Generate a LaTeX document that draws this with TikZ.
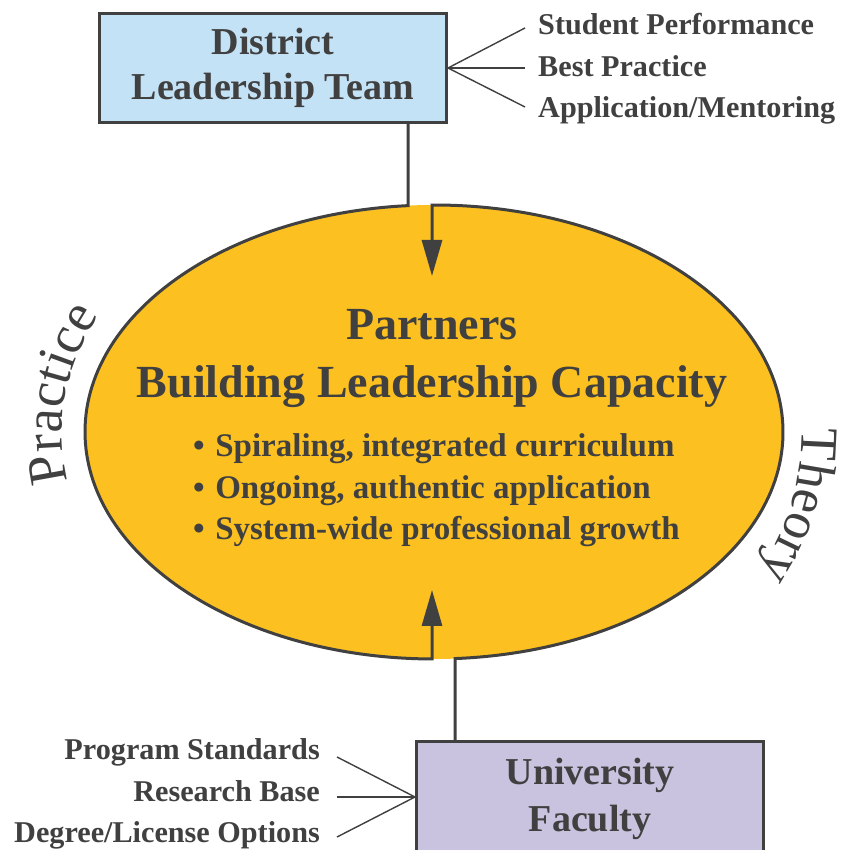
\documentclass[tikz,border=0pt]{standalone}
\usepackage{fontspec}
\setmainfont{Liberation Serif}
\usetikzlibrary{arrows.meta,shapes.geometric,decorations.text,calc}
\definecolor{ink}{HTML}{404040}
\definecolor{gold}{HTML}{FCC121}
\definecolor{skyfill}{HTML}{C4E2F6}
\definecolor{lavfill}{HTML}{CAC3DF}
\begin{document}
\begin{tikzpicture}[x=1pt,y=1pt,
  box/.style={draw=ink, line width=3pt, minimum width=347pt, inner sep=0pt},
  conn/.style={draw=ink, line width=3pt, line join=miter},
  fan/.style={draw=ink, line width=1.4pt},
  tipend/.style={-{Triangle[length=36pt,width=20pt]}},
  title/.style={text=ink, font=\bfseries\fontsize{46}{50}\selectfont, anchor=base, inner sep=0pt},
  bul/.style={text=ink, font=\bfseries\fontsize{33}{36}\selectfont, anchor=base west, inner sep=0pt},
  boxtxt/.style={text=ink, font=\bfseries\fontsize{38}{42}\selectfont, anchor=base, inner sep=0pt},
  side/.style={text=ink, font=\bfseries\fontsize{30.2}{34}\selectfont, inner sep=0pt},
]
\useasboundingbox (0,0) rectangle (842,850);
\fill[white] (0,0) rectangle (842,850);

% ellipse
\node[ellipse, fill=gold, draw=none, minimum width=698pt, minimum height=454pt, inner sep=0pt] (ell) at (434,418) {};
\coordinate (t1) at ([shift={(94.27:349pt and 227pt)}]ell.center);
\coordinate (t2) at ([shift={(90.33:349pt and 227pt)}]ell.center);
\coordinate (b1) at ([shift={(269.67:349pt and 227pt)}]ell.center);
\coordinate (b2) at ([shift={(273.45:349pt and 227pt)}]ell.center);
\coordinate (tip1) at (432,574);
\coordinate (tip2) at (432,260);

% boxes
\node[box, fill=skyfill, minimum height=109pt] (dlt) at (273,782) {};
\node[boxtxt] (dlt1) at (273,795) {District};
\node[boxtxt] (dlt2) at (273,750) {Leadership Team};

\node[box, fill=lavfill, minimum height=111pt] (uf) at (590,53) {};
\node[boxtxt] (uf1) at (590,65) {University};
\node[boxtxt] (uf2) at (590,18) {Faculty};

% outline + connectors
\draw[conn, tipend] (dlt.south -| t1) -- (t1)
  arc[start angle=94.27, end angle=269.67, x radius=349pt, y radius=227pt] -- (tip2);
\draw[conn, tipend] (uf.north -| b2) -- (b2)
  arc[start angle=273.45, end angle=450.33, x radius=349pt, y radius=227pt] -- (tip1);

% central text
\node[title] (p1) at (432,510) {Partners};
\node[title] (p2) at (432,452) {Building Leadership Capacity};
\node[bul] (c1) at (193,393) {•\hspace{0.32em}Spiraling, integrated curriculum};
\node[bul] (c2) at (193,351) {•\hspace{0.32em}Ongoing, authentic application};
\node[bul] (c3) at (193,310) {•\hspace{0.32em}System-wide professional growth};

% top fan
\node[side, anchor=base west] (s1) at (538,815) {Student Performance};
\node[side, anchor=base west] (s2) at (538,773) {Best Practice};
\node[side, anchor=base west] (s3) at (538,732) {Application/Mentoring};
\coordinate (f1) at (525,822);
\coordinate (f2) at (525,782);
\coordinate (f3) at (525,743);
\draw[fan] (dlt.east) -- (f1);
\draw[fan] (dlt.east) -- (f2);
\draw[fan] (dlt.east) -- (f3);

% bottom fan
\node[side, anchor=base east] (r1) at (320,90) {Program Standards};
\node[side, anchor=base east] (r2) at (320,48) {Research Base};
\node[side, anchor=base east] (r3) at (320,7) {Degree/License Options};
\coordinate (g1) at (337,93);
\coordinate (g2) at (337,53);
\coordinate (g3) at (337,13);
\draw[fan] (uf.west) -- (g1);
\draw[fan] (uf.west) -- (g2);
\draw[fan] (uf.west) -- (g3);

% curved labels
\path[decorate, decoration={text along path, text align=center,
  text={|\fontsize{54}{60}\selectfont\color{ink}|Practice}}]
  ([shift={(208:372pt and 267pt)}]ell.center)
  arc[start angle=208, end angle=138, x radius=372pt, y radius=267pt];
\path[decorate, decoration={text along path, text align=center,
  text={|\fontsize{53}{60}\selectfont\color{ink}|Theory}}]
  ([shift={(17:368pt and 300pt)}]ell.center)
  arc[start angle=17, end angle=-43, x radius=368pt, y radius=300pt];
\end{tikzpicture}
\end{document}
